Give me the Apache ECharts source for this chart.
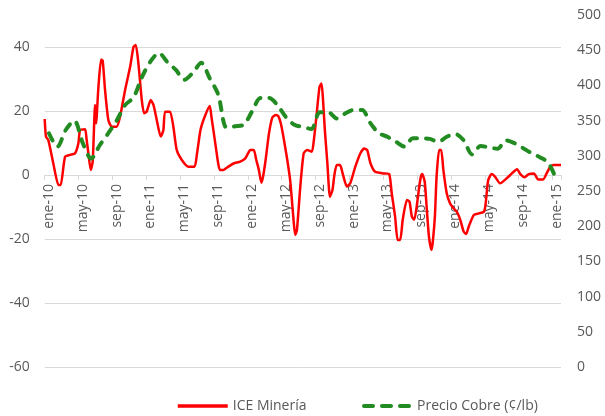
<!DOCTYPE html>
<html>
<head>
<meta charset="utf-8">
<script src="https://cdn.jsdelivr.net/npm/echarts@6/dist/echarts.min.js"></script>
<style>
html,body{margin:0;padding:0;background:#fff;}
#c{width:605px;height:416px;}
</style>
</head>
<body>
<div id="c"></div>
<script>
// Tick labels (category axis: monthly, ene-10 ... ene-15)
const monthNames = ['ene','feb','mar','abr','may','jun','jul','ago','sep','oct','nov','dic'];
const years = ['10','11','12','13','14','15'];
const categories = [];
years.forEach(function (y, yi) {
  monthNames.forEach(function (m, mi) {
    if (yi < years.length - 1 || mi === 0) categories.push(m + '-' + y);
  });
});

// Precio Cobre (¢/lb), monthly, right axis
const copperPrice = [332,313,337,350,318,296,315,332,350,372,
  383,412,434,446,433,422,408,418,432,410,
  387,340,342,344,363,382,382,372,355,344,
  341,338,362,362,353,360,365,365,346,332,
  327,320,313,325,325,324,320,327,331,322,
  302,314,312,310,322,318,311,304,298,290,265];

// ICE Minería: position in months from ene-10 and value (left axis)
const iceMonth = [-0.5,-0.35,-0.07,0.52,1.12,1.39,1.9,2.5,3.1,3.48,3.68,4.27,4.46,4.66,4.94,5.17,5.45,5.57,5.85,6.16,6.35,6.63,7.02,7.42,8.0,8.4,9.0,9.6,10.0,10.26,10.57,10.97,11.24,11.55,12.03,12.35,12.74,13.21,13.52,13.72,14.3,14.7,15.1,15.7,16.48,17.2,17.5,17.9,18.4,19.0,19.2,19.6,20.0,20.2,20.6,21.2,21.8,22.6,23.2,23.8,24.2,24.5,24.8,25.1,25.3,25.6,26.0,26.4,26.8,27.1,27.4,27.7,28.1,28.5,28.9,29.1,29.3,29.7,30.1,30.5,31.06,31.3,31.6,31.97,32.2,32.36,32.6,32.9,33.2,33.5,33.7,34.0,34.4,34.7,35.2,35.6,36.2,36.8,37.25,37.6,38.0,38.55,39.6,40.2,40.5,40.9,41.2,41.5,41.8,42.3,42.6,42.88,43.16,43.5,43.75,43.95,44.1,44.4,44.65,44.9,45.2,45.35,45.6,45.8,46.1,46.35,46.6,47.0,47.4,47.8,48.2,48.6,49.0,49.3,49.6,50.2,50.8,51.4,51.6,51.9,52.3,52.7,53.3,54.1,54.7,55.3,55.7,56.2,56.7,57.3,57.8,58.4,58.8,59.2,59.6,60.5];
const iceValue = [17.5,12,10.9,3.6,-3.1,-3.1,5.7,6.3,6.8,9.9,14,14.3,10.9,6.8,1.6,4.2,21.9,16.1,27.6,36.1,35.7,26.6,17.2,15.1,15.1,18.2,26.6,33.9,40.1,40.6,34.9,23.4,19.3,19.8,23.4,21.9,17.2,12,14,19.8,19.8,15.1,7.8,4.7,2.6,2.6,6.8,14,18.2,21.6,18.2,10.9,3.6,1.6,1.6,2.6,3.6,4.2,5.2,7.8,7.8,4.7,1.6,-2.4,-0.5,4.7,13,18,18.75,18.4,16.1,12,5.7,-1.6,-14,-18.75,-17.2,-3.6,6.8,7.8,7.3,10.9,18.2,27.6,28.6,24.5,14,3.6,-6.8,-4.7,-0.5,3.1,3.1,0.5,-3.6,-2.6,2.6,6.8,8.3,7.8,3.6,1.0,0.5,0.3,-5.7,-13,-20.3,-20.3,-14,-7.8,-8.3,-13,-14,-8.9,-3.6,-0.5,0.3,-2.1,-10.9,-19.3,-23.4,-21,-13,-0.5,7.8,7.8,1.6,-5.7,-8.9,-10.4,-11.5,-14,-17.7,-18.4,-16.1,-12.5,-12,-11.5,-8.9,-1.6,0.3,-0.5,-2.6,-1,0.5,1.8,0.3,-0.7,0.3,0.5,-1.4,-1.4,0.5,2.4,3.1,3.1];

const icePairs = iceMonth.map(function (m, i) { return [m, iceValue[i]]; });

const FONT = '"Open Sans", sans-serif';
const TXT = '#595959';
const GRID = '#d9d9d9';
const LEFT_MIN = -60, LEFT_MAX = 50;
const GRID_TOP = 15, GRID_BOTTOM = 49, H = 416;
// place the category axis line at the left axis' zero
const plotH = H - GRID_TOP - GRID_BOTTOM;
const zeroOffset = -plotH * (0 - LEFT_MIN) / (LEFT_MAX - LEFT_MIN);

const chart = echarts.init(document.getElementById('c'), null, {renderer: 'canvas'});
chart.setOption({
  animation: false,
  backgroundColor: '#fff',
  textStyle: {fontFamily: FONT},
  grid: {left: 44.7, right: 44, top: GRID_TOP, bottom: GRID_BOTTOM, containLabel: false},
  legend: [
    {
      data: ['ICE Minería'], left: 176, top: 399, padding: 0, itemWidth: 50, itemHeight: 14,
      itemStyle: {opacity: 0},
      lineStyle: {width: 3.5},
      textStyle: {color: TXT, fontSize: 14, fontFamily: FONT}
    },
    {
      data: ['Precio Cobre (¢/lb)'], left: 362, top: 399, padding: 0, itemWidth: 48, itemHeight: 14,
      itemStyle: {opacity: 0},
      lineStyle: {width: 4, type: [9, 9], cap: 'round'},
      textStyle: {color: TXT, fontSize: 14, fontFamily: FONT}
    }
  ],
  xAxis: [
    {
      type: 'category', data: categories, boundaryGap: true, position: 'bottom', offset: zeroOffset,
      axisLine: {show: true, onZero: false, lineStyle: {color: GRID, width: 1}},
      axisTick: {show: true, interval: 3, length: 5, alignWithLabel: false, lineStyle: {color: GRID}},
      axisLabel: {interval: 3, rotate: 90, color: TXT, fontSize: 14, fontFamily: FONT, margin: 9},
      splitLine: {show: false}
    },
    {
      type: 'value', min: -0.5, max: 60.5, show: false, axisLine: {onZero: false}
    }
  ],
  yAxis: [
    {
      type: 'value', min: LEFT_MIN, max: LEFT_MAX, interval: 20, position: 'left',
      axisLine: {show: false, onZero: false}, axisTick: {show: false},
      axisLabel: {color: TXT, fontSize: 14, fontFamily: FONT, margin: 15, showMaxLabel: false,
        formatter: function (v) { return v === 50 ? '' : String(v); }},
      splitLine: {show: true, showMaxLine: false, lineStyle: {color: GRID, width: 1}}
    },
    {
      type: 'value', min: 0, max: 500, interval: 50, position: 'right',
      axisLine: {show: false, onZero: false}, axisTick: {show: false},
      axisLabel: {color: TXT, fontSize: 14, fontFamily: FONT, margin: 16},
      splitLine: {show: false}
    }
  ],
  series: [
    {
      name: 'ICE Minería', type: 'line', xAxisIndex: 1, yAxisIndex: 0,
      data: icePairs, showSymbol: false, symbol: 'none', smooth: 0.2,
      itemStyle: {color: '#ff0000'},
      lineStyle: {color: '#ff0000', width: 2.5}
    },
    {
      name: 'Precio Cobre (¢/lb)', type: 'line', xAxisIndex: 0, yAxisIndex: 1,
      data: copperPrice, showSymbol: false, symbol: 'none', smooth: 0.3,
      itemStyle: {color: '#228b22'},
      lineStyle: {color: '#228b22', width: 4, type: [8, 9], cap: 'round'}
    }
  ]
});
</script>
</body>
</html>
